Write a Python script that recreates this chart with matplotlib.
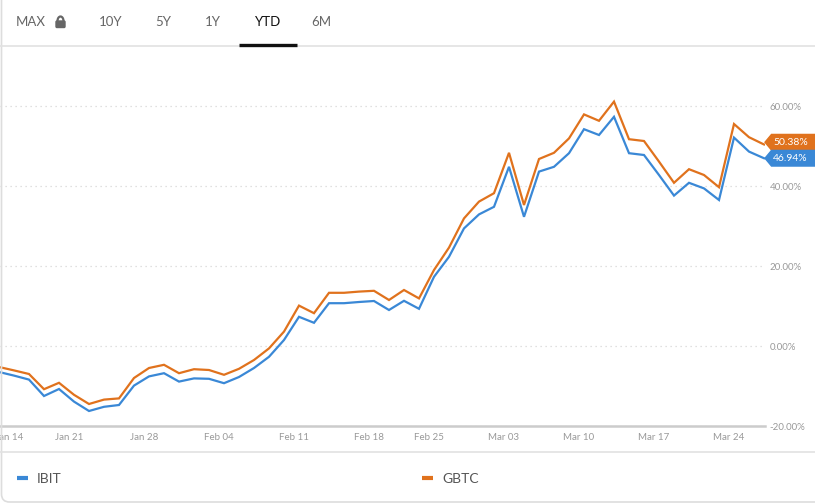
import numpy as np
import pandas as pd
import matplotlib.pyplot as plt
from matplotlib.patches import Polygon, FancyBboxPatch, Rectangle, Arc
from matplotlib.lines import Line2D
from matplotlib.transforms import IdentityTransform

# trading days, YTD % change (base = first close)
dates = ['2024-01-11', '2024-01-12', '2024-01-16', '2024-01-17', '2024-01-18', '2024-01-19',
         '2024-01-22', '2024-01-23', '2024-01-24', '2024-01-25', '2024-01-26',
         '2024-01-29', '2024-01-30', '2024-01-31', '2024-02-01', '2024-02-02',
         '2024-02-05', '2024-02-06', '2024-02-07', '2024-02-08', '2024-02-09',
         '2024-02-12', '2024-02-13', '2024-02-14', '2024-02-15', '2024-02-16',
         '2024-02-20', '2024-02-21', '2024-02-22', '2024-02-23',
         '2024-02-26', '2024-02-27', '2024-02-28', '2024-02-29', '2024-03-01',
         '2024-03-04', '2024-03-05', '2024-03-06', '2024-03-07', '2024-03-08',
         '2024-03-11', '2024-03-12', '2024-03-13', '2024-03-14', '2024-03-15',
         '2024-03-18', '2024-03-19', '2024-03-20', '2024-03-21', '2024-03-22',
         '2024-03-25', '2024-03-26', '2024-03-27']

ibit = [0, -6.5, -7.4, -8.4, -12.5, -10.75, -13.9, -16.25, -15.2, -14.75, -9.9,
        -7.6, -6.8, -8.9, -8.1, -8.2, -9.3, -7.75, -5.5, -2.7, 1.5,
        7.3, 5.8, 10.7, 10.7, 11.0, 11.25, 9.0, 11.3, 9.3,
        17.3, 22.3, 29.4, 32.9, 34.8, 44.8, 32.3, 43.6, 44.8, 48.2,
        54.2, 52.75, 57.3, 48.2, 47.75, 42.75, 37.6, 40.8, 39.4, 36.5,
        52.1, 48.6, 46.94]

gbtc = [0, -5.25, -6.1, -7.0, -10.8, -9.2, -12.2, -14.5, -13.4, -13.1, -8.0,
        -5.5, -4.7, -6.8, -5.8, -6.0, -7.2, -5.7, -3.5, -0.6, 3.6,
        10.1, 8.2, 13.3, 13.3, 13.6, 13.8, 11.5, 14.0, 11.9,
        19.0, 24.6, 31.9, 36.1, 38.2, 48.3, 35.25, 46.75, 48.3, 51.9,
        57.9, 56.3, 61.1, 51.7, 51.25, 46.1, 40.8, 44.2, 42.75, 39.7,
        55.5, 52.2, 50.38]

tick_dates = ['2024-01-14', '2024-01-21', '2024-01-28', '2024-02-04', '2024-02-11',
              '2024-02-18', '2024-02-25', '2024-03-03', '2024-03-10', '2024-03-17',
              '2024-03-24']
y_ticks = [-20, 0, 20, 40, 60]
tabs = ['MAX', '10Y', '5Y', '1Y', 'YTD', '6M']

blue = '#3a88d6'
orange = '#e0721d'

plt.rcParams['font.family'] = ['Lato', 'DejaVu Sans']

W, H = 815, 504
fig = plt.figure(figsize=(W / 100, H / 100), dpi=100)

def fx(px):
    return px / W

def fy(py):
    return 1 - py / H

# ---- tab bar ----
tab_x = [31, 111, 163, 213, 268, 321]
for t, x in zip(tabs, tab_x):
    fig.text(fx(x), fy(22), t, ha='center', va='center', fontsize=9.5,
             color='#111111' if t == 'YTD' else '#666666')

# lock icon next to MAX
fig.patches.append(FancyBboxPatch((56, H - 27.5), 9, 6.5, boxstyle='round,pad=0,rounding_size=1',
                                  transform=IdentityTransform(), color='#666666', figure=fig))
fig.patches.append(Arc((60.5, H - 21), 6, 9, theta1=0, theta2=180, lw=1.6, color='#666666',
                       transform=IdentityTransform(), figure=fig))

fig.lines.append(Line2D([0, 1], [fy(46), fy(46)], transform=fig.transFigure, color='#e2e2e2', lw=1.2))
fig.lines.append(Line2D([fx(239), fx(297)], [fy(44.5), fy(44.5)], transform=fig.transFigure,
                        color='#111111', lw=2.4, solid_capstyle='butt'))

# outer border (left edge + rounded bottom corner)
fig.patches.append(FancyBboxPatch((1.5, 2), W + 40, H + 40, boxstyle='round,pad=0,rounding_size=8',
                                  transform=IdentityTransform(), fill=False, ec='#dddddd', lw=1.2,
                                  figure=fig))
fig.lines.append(Line2D([0, 1], [fy(452), fy(452)], transform=fig.transFigure, color='#e2e2e2', lw=1.2))

# ---- main chart ----
x = np.arange(len(dates))
ax = fig.add_axes([0, fy(426), fx(765), (426 - 60) / H])
ax.set_facecolor('none')
ax.plot(x, ibit, color=blue, lw=1.6, solid_joinstyle='miter')
ax.plot(x, gbtc, color=orange, lw=1.6, solid_joinstyle='miter')

ax.set_xlim(16 / 15, 16 / 15 + 765 / 15)
ax.set_ylim(-20, (346 - 60) / 4)

d = pd.to_datetime(dates)
tick_pos = np.searchsorted(d.values, pd.to_datetime(tick_dates).values) - 1 / 3
ax.set_xticks(tick_pos)
ax.set_xticklabels([pd.Timestamp(t).strftime('%b %d') for t in tick_dates])
ax.set_yticks(y_ticks)
ax.set_yticklabels([f'{v:.2f}%' for v in y_ticks])
ax.yaxis.tick_right()
ax.tick_params(axis='both', length=0, labelsize=7, labelcolor='#999999')
ax.tick_params(axis='x', pad=5)
ax.tick_params(axis='y', pad=3.5)
for lab in ax.get_yticklabels():
    lab.set_horizontalalignment('left')

ax.grid(axis='y', color='#d6d6d6', lw=0.9, linestyle=(0, (1, 3)))
ax.grid(axis='x', visible=False)
for s in ['top', 'left', 'right']:
    ax.spines[s].set_visible(False)
ax.spines['bottom'].set_color('#cccccc')
ax.spines['bottom'].set_linewidth(1.8)

# ---- end value tags ----
fig.canvas.draw()
yb = ax.transData.transform((x[-1], ibit[-1]))[1]
yo = ax.transData.transform((x[-1], gbtc[-1]))[1]
yo = max(yo, yb + 16)
for yc, val, col in [(yo, gbtc[-1], orange), (yb, ibit[-1], blue)]:
    hh = 7.8
    poly = Polygon([(765, yc), (771.5, yc + hh), (W + 5, yc + hh), (W + 5, yc - hh), (771.5, yc - hh)],
                   closed=True, transform=IdentityTransform(), color=col, figure=fig)
    fig.patches.append(poly)
    fig.text(fx(773), yc / H, f'{val:.2f}%', ha='left', va='center', fontsize=7.5, color='white')

# ---- legend ----
for lx, name, col in [(17, 'IBIT', blue), (422, 'GBTC', orange)]:
    fig.lines.append(Line2D([fx(lx), fx(lx + 11)], [fy(478), fy(478)], transform=fig.transFigure,
                            color=col, lw=3, solid_capstyle='butt'))
    fig.text(fx(lx + 20), fy(479), name, ha='left', va='center', fontsize=10,
             color='#555555', family=['Liberation Sans Narrow', 'Lato', 'DejaVu Sans'])

fig.savefig('out.png', dpi=100)
